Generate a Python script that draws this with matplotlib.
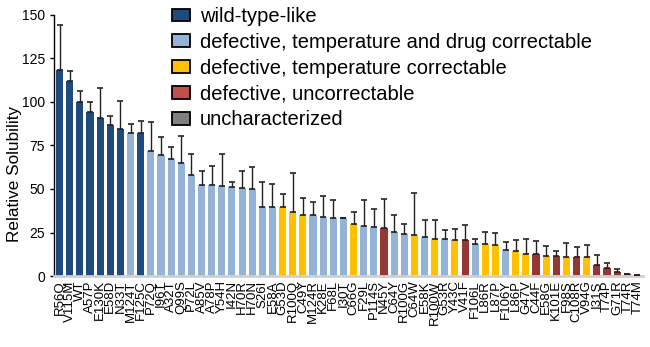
import matplotlib.pyplot as plt
import numpy as np
from matplotlib.patches import Patch

plt.rcParams["font.family"] = ["Liberation Sans", "DejaVu Sans"]

mutants = ["R56Q", "V115M", "WT", "A57P", "E130K", "E58D", "N33T", "M124T", "F125C",
           "P72Q", "I96T", "A32T", "Q99S", "P72L", "A85V", "A78P", "Y54H", "I42N",
           "H70R", "H70N", "S26I", "E58A", "G53D", "R100Q", "C49Y", "M124R", "K28E",
           "F68L", "I30T", "C66G", "F29L", "P114S", "N45Y", "C64Y", "R100G", "C64W",
           "E58K", "R100W", "G53R", "Y43C", "V41F", "F106L", "L86R", "L87P", "F106Y",
           "L86P", "G47V", "C44F", "E58G", "K101E", "F98S", "C108R", "V94G", "I31S",
           "T74P", "G71R", "T74R", "T74M"]

solubility = [118.4, 112.1, 100.0, 94.1, 90.8, 86.6, 84.5, 82.2, 82.0,
              71.8, 69.7, 67.2, 64.9, 58.2, 52.4, 52.3, 51.7, 51.0,
              50.4, 49.8, 39.8, 39.8, 39.7, 36.8, 35.2, 34.9, 34.1,
              33.1, 33.1, 29.9, 28.7, 28.0, 27.8, 25.1, 24.3, 23.7,
              22.6, 21.5, 21.1, 20.9, 20.7, 18.6, 18.6, 18.0, 14.8,
              14.2, 12.8, 12.6, 11.5, 11.3, 10.9, 10.9, 10.7, 6.3,
              4.6, 2.1, 1.0, 0.6]

sd = [25.9, 5.5, 6.1, 5.7, 17.4, 5.2, 16.1, 5.3, 7.3,
      16.7, 10.2, 6.9, 15.4, 11.9, 7.9, 11.1, 18.2, 2.8,
      9.9, 12.7, 14.4, 12.9, 7.4, 22.4, 9.4, 7.6, 12.1,
      10.8, 0.0, 6.9, 15.2, 10.7, 16.6, 10.1, 5.6, 24.2,
      9.8, 10.9, 5.1, 6.3, 8.4, 2.9, 6.6, 6.7, 4.6,
      6.3, 8.3, 7.3, 5.9, 2.9, 7.9, 5.6, 7.3, 5.8,
      2.9, 2.1, 0.4, 0.0]

# group index per mutant: 0 wild-type-like, 1 temp+drug, 2 temp, 3 uncorrectable
group = [0, 0, 0, 0, 0, 0, 0, 1, 0,
         1, 1, 1, 1, 1, 1, 1, 1, 1,
         1, 1, 1, 1, 2, 2, 2, 1, 1,
         1, 1, 2, 1, 1, 3, 1, 1, 2,
         1, 2, 1, 2, 3, 1, 2, 2, 1,
         2, 2, 3, 2, 3, 2, 3, 2, 3,
         3, 3, 3, 3]

legend_labels = ["wild-type-like",
                 "defective, temperature and drug correctable",
                 "defective, temperature correctable",
                 "defective, uncorrectable",
                 "uncharacterized"]

bar_colors = ["#1F4A7E", "#95B3D7", "#FFC000", "#953735"]
legend_colors = ["#1F4A7E", "#95B3D7", "#FFC000", "#C0504D", "#808080"]

fig = plt.figure(figsize=(6.5, 3.47), dpi=100)
ax = fig.add_axes([54 / 650, 71 / 347, 589 / 650, 261 / 347])

x = np.arange(len(mutants))
colors = [bar_colors[g] for g in group]
ax.bar(x, solubility, width=0.7, color=colors, zorder=2)
ax.errorbar(x, solubility, yerr=[np.zeros(len(sd)), sd], fmt="none",
            ecolor="#222222", elinewidth=1.0, capsize=1.9, capthick=1.2, zorder=3)

ax.set_xlim(-0.55, len(mutants) - 0.45)
ax.set_ylim(0, 150)
ax.set_yticks([0, 25, 50, 75, 100, 125, 150])
ax.tick_params(axis="y", labelsize=10, direction="out", length=3, width=1)
ax.set_xticks(x)
ax.set_xticklabels(mutants, rotation=90, fontsize=9.5)
ax.tick_params(axis="x", length=0, pad=3)
ax.set_ylabel("Relative Solubility", fontsize=12.3)
ax.yaxis.set_label_coords(-0.054, 0.39)

for side in ["top", "right"]:
    ax.spines[side].set_visible(False)
ax.spines["bottom"].set_color("#D0D0D0")
ax.spines["bottom"].set_linewidth(2)
ax.spines["left"].set_linewidth(1)

handles = [Patch(facecolor=c, edgecolor="black", linewidth=1.3) for c in legend_colors]
fig.legend(handles, legend_labels, loc="upper left",
           bbox_to_anchor=(172 / 650, 1 - 7 / 347), frameon=False,
           fontsize=14.5, handlelength=0.9, handleheight=0.6,
           handletextpad=0.5, labelspacing=0.34, borderpad=0, borderaxespad=0)

fig.savefig("out.png", dpi=100)
